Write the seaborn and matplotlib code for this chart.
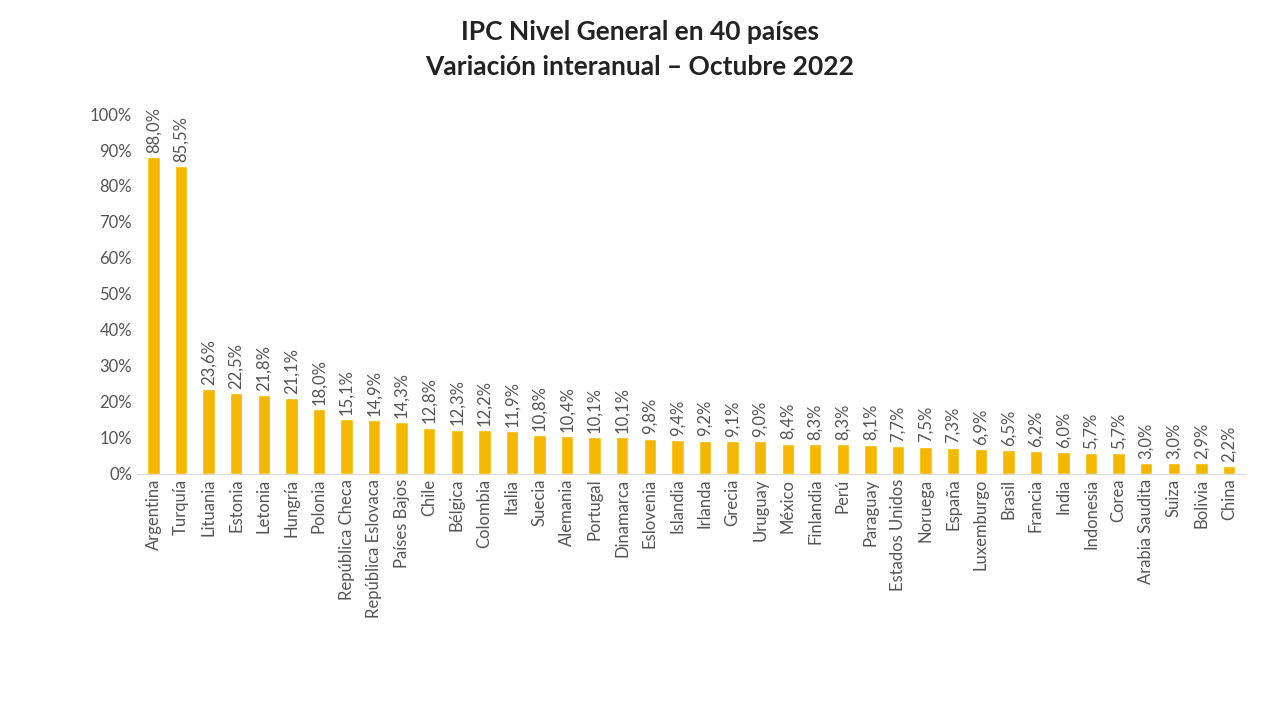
import matplotlib
matplotlib.use("Agg")
import matplotlib.pyplot as plt
import seaborn as sns
import pandas as pd

countries = ["Argentina","Turquía","Lituania","Estonia","Letonia","Hungría","Polonia",
 "República Checa","República Eslovaca","Países Bajos","Chile","Bélgica","Colombia","Italia",
 "Suecia","Alemania","Portugal","Dinamarca","Eslovenia","Islandia","Irlanda","Grecia","Uruguay",
 "México","Finlandia","Perú","Paraguay","Estados Unidos","Noruega","España","Luxemburgo","Brasil",
 "Francia","India","Indonesia","Corea","Arabia Saudita","Suiza","Bolivia","China"]
values = [88.0,85.5,23.6,22.5,21.8,21.1,18.0,15.1,14.9,14.3,12.8,12.3,12.2,11.9,10.8,10.4,10.1,10.1,
 9.8,9.4,9.2,9.1,9.0,8.4,8.3,8.3,8.1,7.7,7.5,7.3,6.9,6.5,6.2,6.0,5.7,5.7,3.0,3.0,2.9,2.2]
yticks = [0,10,20,30,40,50,60,70,80,90,100]

sns.set_style("white")
plt.rcParams['font.family'] = ['Lato', 'DejaVu Sans']
df = pd.DataFrame({"pais": countries, "v": values})
fig = plt.figure(figsize=(12.8, 7.04), dpi=100)
ax = fig.add_axes([0.107, 0.327, 0.866, 0.511])
sns.barplot(data=df, x="pais", y="v", color="#F5B800", saturation=1, width=0.45, ax=ax)
ax.set_ylim(0, 100)
ax.set_xlim(-0.6, len(countries)-0.4)
ax.set_yticks(yticks)
ax.set_yticklabels([f"{t}%" for t in yticks], color="#555555", fontsize=12)
ax.set_xticks(range(len(countries)))
ax.set_xticklabels(countries, rotation=90, color="#555555", fontsize=12)
ax.tick_params(length=0)
for i, v in enumerate(values):
    ax.text(i, v + 1.2, f"{v:.1f}%".replace(".", ","), rotation=90, ha="center", va="bottom",
            color="#555555", fontsize=12)
for s in ["top", "right", "left"]:
    ax.spines[s].set_visible(False)
ax.spines["bottom"].set_color("#d9d9d9")
ax.set_xlabel(""); ax.set_ylabel("")
fig.text(0.5, 0.955, "IPC Nivel General en 40 países", ha="center", va="center",
         fontsize=19, fontweight="bold", color="#222222")
fig.text(0.5, 0.905, "Variación interanual – Octubre 2022", ha="center", va="center",
         fontsize=19, fontweight="bold", color="#222222")
fig.savefig("out.png", dpi=100)
